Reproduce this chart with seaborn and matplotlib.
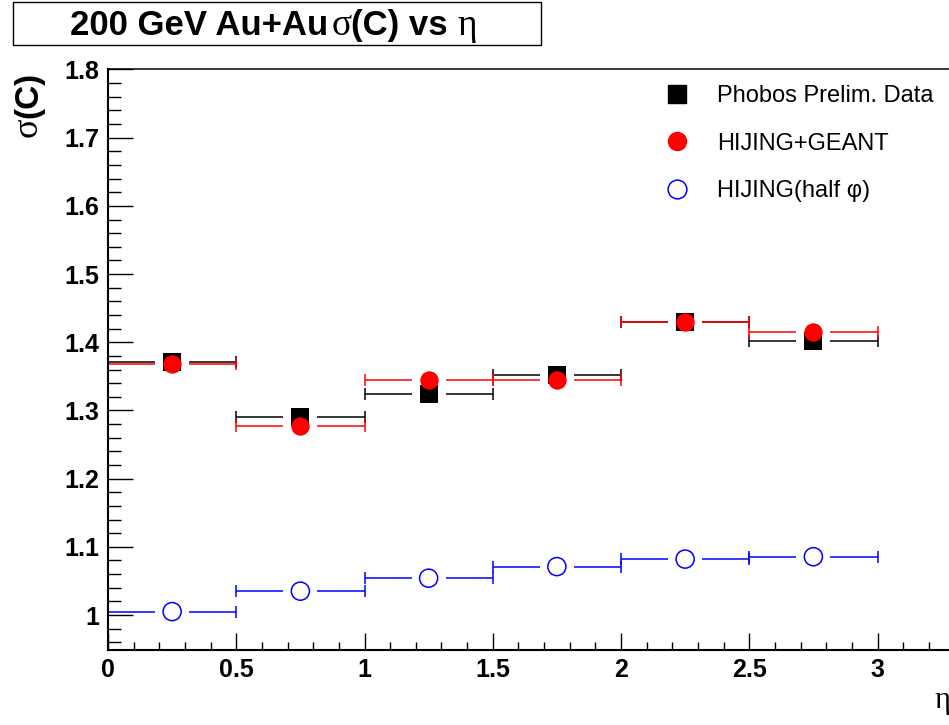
import matplotlib
matplotlib.use("Agg")
import matplotlib.pyplot as plt
import seaborn as sns
import pandas as pd
from matplotlib.lines import Line2D
from matplotlib.patches import Rectangle
from matplotlib.ticker import MultipleLocator

# ---- data ----
eta = [0.25, 0.75, 1.25, 1.75, 2.25, 2.75]
eta_halfwidth = [0.25, 0.25, 0.25, 0.25, 0.25, 0.25]
phobos = [1.371, 1.290, 1.3245, 1.3515, 1.430, 1.402]
hijing_geant = [1.368, 1.2765, 1.344, 1.3446, 1.430, 1.4145]
hijing_half = [1.005, 1.035, 1.054, 1.071, 1.082, 1.0855]
series_labels = ["Phobos Prelim. Data", "HIJING+GEANT", "HIJING(half \u03c6)"]
xticks = [0, 0.5, 1, 1.5, 2, 2.5, 3]
xtick_labels = ["0", "0.5", "1", "1.5", "2", "2.5", "3"]
yticks = [1.0, 1.1, 1.2, 1.3, 1.4, 1.5, 1.6, 1.7, 1.8]
ytick_labels = ["1", "1.1", "1.2", "1.3", "1.4", "1.5", "1.6", "1.7", "1.8"]

sns.set_style("white")
plt.rcParams['font.family'] = ['Liberation Sans', 'DejaVu Sans']
plt.rcParams['text.color'] = 'black'
plt.rcParams['xtick.color'] = 'black'
plt.rcParams['ytick.color'] = 'black'

W, H = 949, 725
fig = plt.figure(figsize=(W / 100, H / 100), dpi=100)
ax = fig.add_axes([108 / W, 1 - 650 / H, 1 - 108 / W, (650 - 69) / H])
ax.set_xlim(0, (W - 108) / 256.5)
ax.set_ylim(0.9487, 1.8007)

gap = 0.066  # white gap around marker, data units

def draw_series(x, xe, y, color, marker, filled, size, lw, label):
    df = pd.DataFrame({"x": x, "xe": xe, "y": y})
    ax.hlines(df.y, df.x - df.xe, df.x - gap, color=color, lw=lw, zorder=2)
    ax.hlines(df.y, df.x + gap, df.x + df.xe, color=color, lw=lw, zorder=2)
    ax.plot(df.x - df.xe, df.y, ls='none', marker='|', ms=8, mew=lw, color=color, zorder=2)
    ax.plot(df.x + df.xe, df.y, ls='none', marker='|', ms=8, mew=lw, color=color, zorder=2)
    if filled:
        sns.scatterplot(data=df, x="x", y="y", ax=ax, marker=marker, s=size,
                        color=color, edgecolor=color, linewidth=0, zorder=3, legend=False)
    else:
        sns.scatterplot(data=df, x="x", y="y", ax=ax, marker=marker, s=size,
                        facecolor='none', edgecolor=color, linewidth=1.1, zorder=3, legend=False)

draw_series(eta, eta_halfwidth, phobos, 'black', 's', True, 165, 1.1, series_labels[0])
draw_series(eta, eta_halfwidth, hijing_geant, '#ff0000', 'o', True, 175, 1.1, series_labels[1])
draw_series(eta, eta_halfwidth, hijing_half, '#0000ff', 'o', False, 170, 1.1, series_labels[2])

ax.set_xlabel("")
ax.set_ylabel("")
ax.set_xticks(xticks, xtick_labels)
ax.set_yticks(yticks, ytick_labels)
ax.xaxis.set_minor_locator(MultipleLocator(0.1))
ax.yaxis.set_minor_locator(MultipleLocator(0.02))
for lab in ax.get_xticklabels() + ax.get_yticklabels():
    lab.set_fontweight('bold')
    lab.set_fontsize(18)
    lab.set_color('black')
ax.tick_params(axis='x', which='major', direction='in', length=12, width=1.0, pad=6, bottom=True, top=False)
ax.tick_params(axis='x', which='minor', direction='in', length=6, width=1.0, bottom=True, top=False)
ax.tick_params(axis='y', which='major', direction='in', length=18, width=1.0, pad=6, left=True, right=False)
ax.tick_params(axis='y', which='minor', direction='in', length=9, width=1.0, left=True, right=False)
for s in ['bottom', 'left']:
    ax.spines[s].set_linewidth(1.5)
    ax.spines[s].set_color('black')
ax.spines['top'].set_linewidth(1.1)
ax.spines['top'].set_color('black')
ax.spines['right'].set_visible(False)

# legend
handles = [
    Line2D([], [], ls='none', marker='s', ms=13, color='black'),
    Line2D([], [], ls='none', marker='o', ms=13, color='#ff0000'),
    Line2D([], [], ls='none', marker='o', ms=13.5, mfc='none', mec='#0000ff', mew=1.1),
]
leg = fig.legend(handles, series_labels, loc='upper left', bbox_to_anchor=(665 / W, 1 - 85 / H),
                 frameon=False, fontsize=17, handlelength=1.0, handletextpad=1.2,
                 labelspacing=1.08, borderpad=0, borderaxespad=0)
for t in leg.get_texts():
    t.set_color('black')

renderer = fig.canvas.get_renderer()

def chain_h(pieces, x0px, ybase_px):
    x = x0px / W
    for s, fam, wt, size, pad in pieces:
        t = fig.text(x + pad / W, 1 - ybase_px / H, s, ha='left', va='baseline', fontsize=size,
                     family=fam, fontweight=wt, color='black')
        bb = t.get_window_extent(renderer)
        x = bb.x1 / W

def chain_v(pieces, xbase_px, y0px):
    y = 1 - y0px / H
    for s, fam, wt, size in pieces:
        t = fig.text(xbase_px / W, y, s, ha='left', va='baseline', fontsize=size,
                     family=fam, fontweight=wt, rotation=90, rotation_mode='anchor', color='black')
        bb = t.get_window_extent(renderer)
        y = bb.y1 / H

sans = ['Liberation Sans', 'DejaVu Sans']
serif = ['Liberation Serif', 'DejaVu Serif']

# title box
fig.patches.append(Rectangle((13 / W, 1 - 45 / H), (541 - 13) / W, (45 - 2) / H,
                             transform=fig.transFigure, fill=False, edgecolor='black', lw=1.0))
chain_h([("200 GeV Au+Au", sans, 'bold', 25, 0),
         ("\u03c3", serif, 'normal', 27, 3),
         ("(C) vs ", sans, 'bold', 25, 0),
         ("\u03b7", serif, 'normal', 27, 0)], 70, 35)

# y label
chain_v([("\u03c3", serif, 'normal', 26),
         ("(C)", sans, 'bold', 24)], 37, 137)

# x label
fig.text(934 / W, 1 - 708 / H, "\u03b7", ha='left', va='baseline', fontsize=22, family=serif,
         color='black')

fig.savefig("out.png", dpi=100)
